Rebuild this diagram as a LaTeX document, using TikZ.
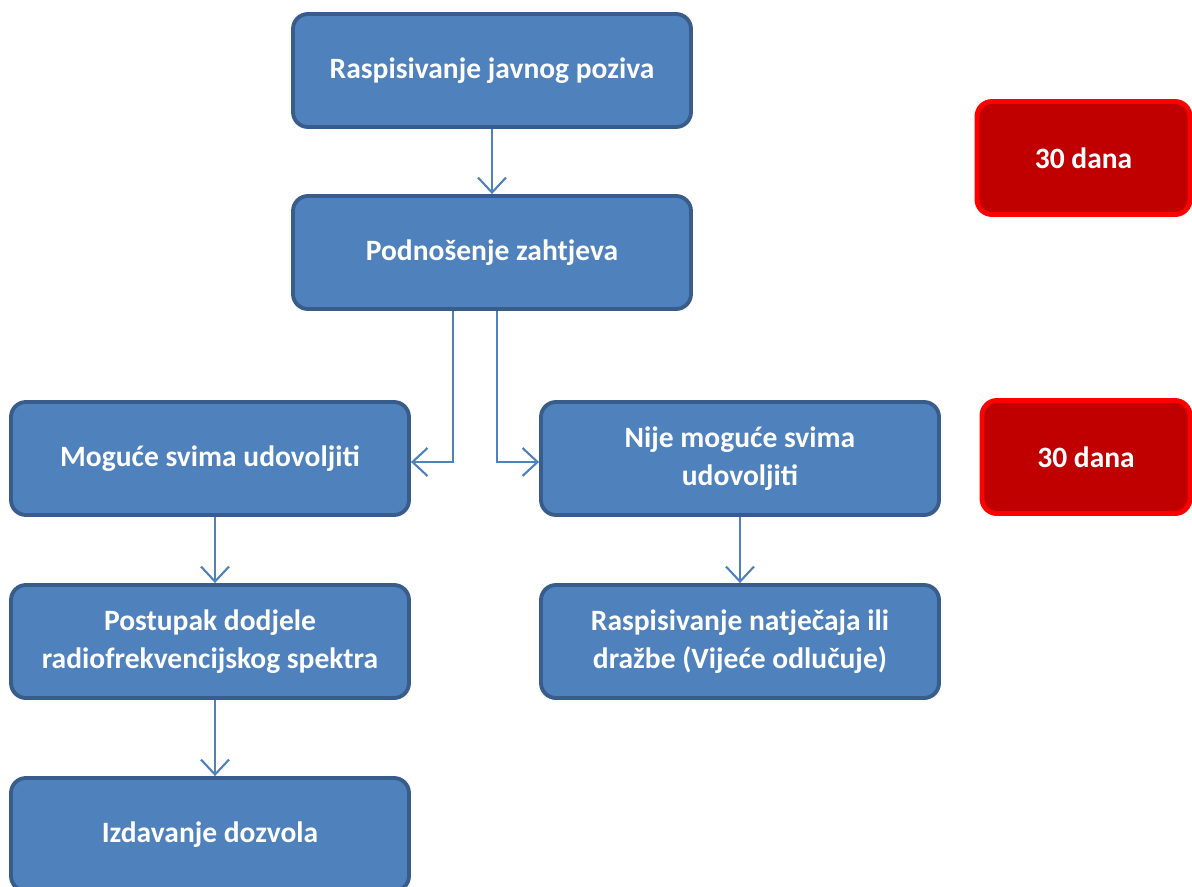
\documentclass[tikz,border=0pt]{standalone}
\usepackage{fontspec}
\setmainfont{Carlito}
\usetikzlibrary{arrows.meta, positioning}

\definecolor{boxblue}{HTML}{4F81BD}
\definecolor{boxedge}{HTML}{385D8A}
\definecolor{daysred}{HTML}{C00000}
\definecolor{daysedge}{HTML}{FF0000}

\begin{document}
\begin{tikzpicture}[
  step box/.style={rectangle, draw=boxedge, fill=boxblue, line width=2.2pt, rounded corners=0.3cm,
    minimum width=7.96cm, minimum height=2.26cm, align=center, text=white,
    font=\fontsize{16.8}{21.5}\selectfont\bfseries},
  days box/.style={rectangle, draw=daysedge, fill=daysred, line width=2.8pt, rounded corners=0.3cm,
    minimum height=2.26cm, align=center, text=white,
    font=\fontsize{16.8}{21.5}\selectfont\bfseries},
  arrow/.style={-{Straight Barb[length=3mm, width=5.6mm]}, draw=boxblue, line width=1.2pt}
]
\useasboundingbox (0,0) rectangle (23.84,-17.72);

\node (poziv) [step box] at (9.84,-1.41) {Raspisivanje javnog poziva};
\node (zahtjev) [step box] at (9.84,-5.05) {Podnošenje zahtjeva};
\node (moguce) [step box] at (4.2,-9.17) {Moguće svima udovoljiti};
\node (nijemoguce) [step box] at (14.8,-9.17) {Nije moguće svima\\udovoljiti};
\node (postupak) [step box] at (4.2,-12.83) {Postupak dodjele\\radiofrekvencijskog spektra};
\node (natjecaj) [step box] at (14.8,-12.83) {Raspisivanje natječaja ili\\dražbe (Vijeće odlučuje)};
\node (dozvole) [step box] at (4.2,-16.69) {Izdavanje dozvola};

\node (rok1) [days box, minimum width=4.26cm] at (21.67,-3.16) {30 dana};
\node (rok2) [days box, minimum width=4.16cm] at (21.72,-9.14) {30 dana};

\draw[arrow] (poziv) -- (zahtjev);
\draw[arrow] ([xshift=-0.78cm]zahtjev.south) |- ([yshift=-0.07cm]moguce.east);
\draw[arrow] ([xshift=0.1cm]zahtjev.south) |- ([yshift=-0.07cm]nijemoguce.west);
\draw[arrow] ([xshift=0.1cm]moguce.south) -- ([xshift=0.1cm]postupak.north);
\draw[arrow] (nijemoguce) -- (natjecaj);
\draw[arrow] ([xshift=0.1cm]postupak.south) -- ([xshift=0.1cm]dozvole.north);

\end{tikzpicture}
\end{document}
